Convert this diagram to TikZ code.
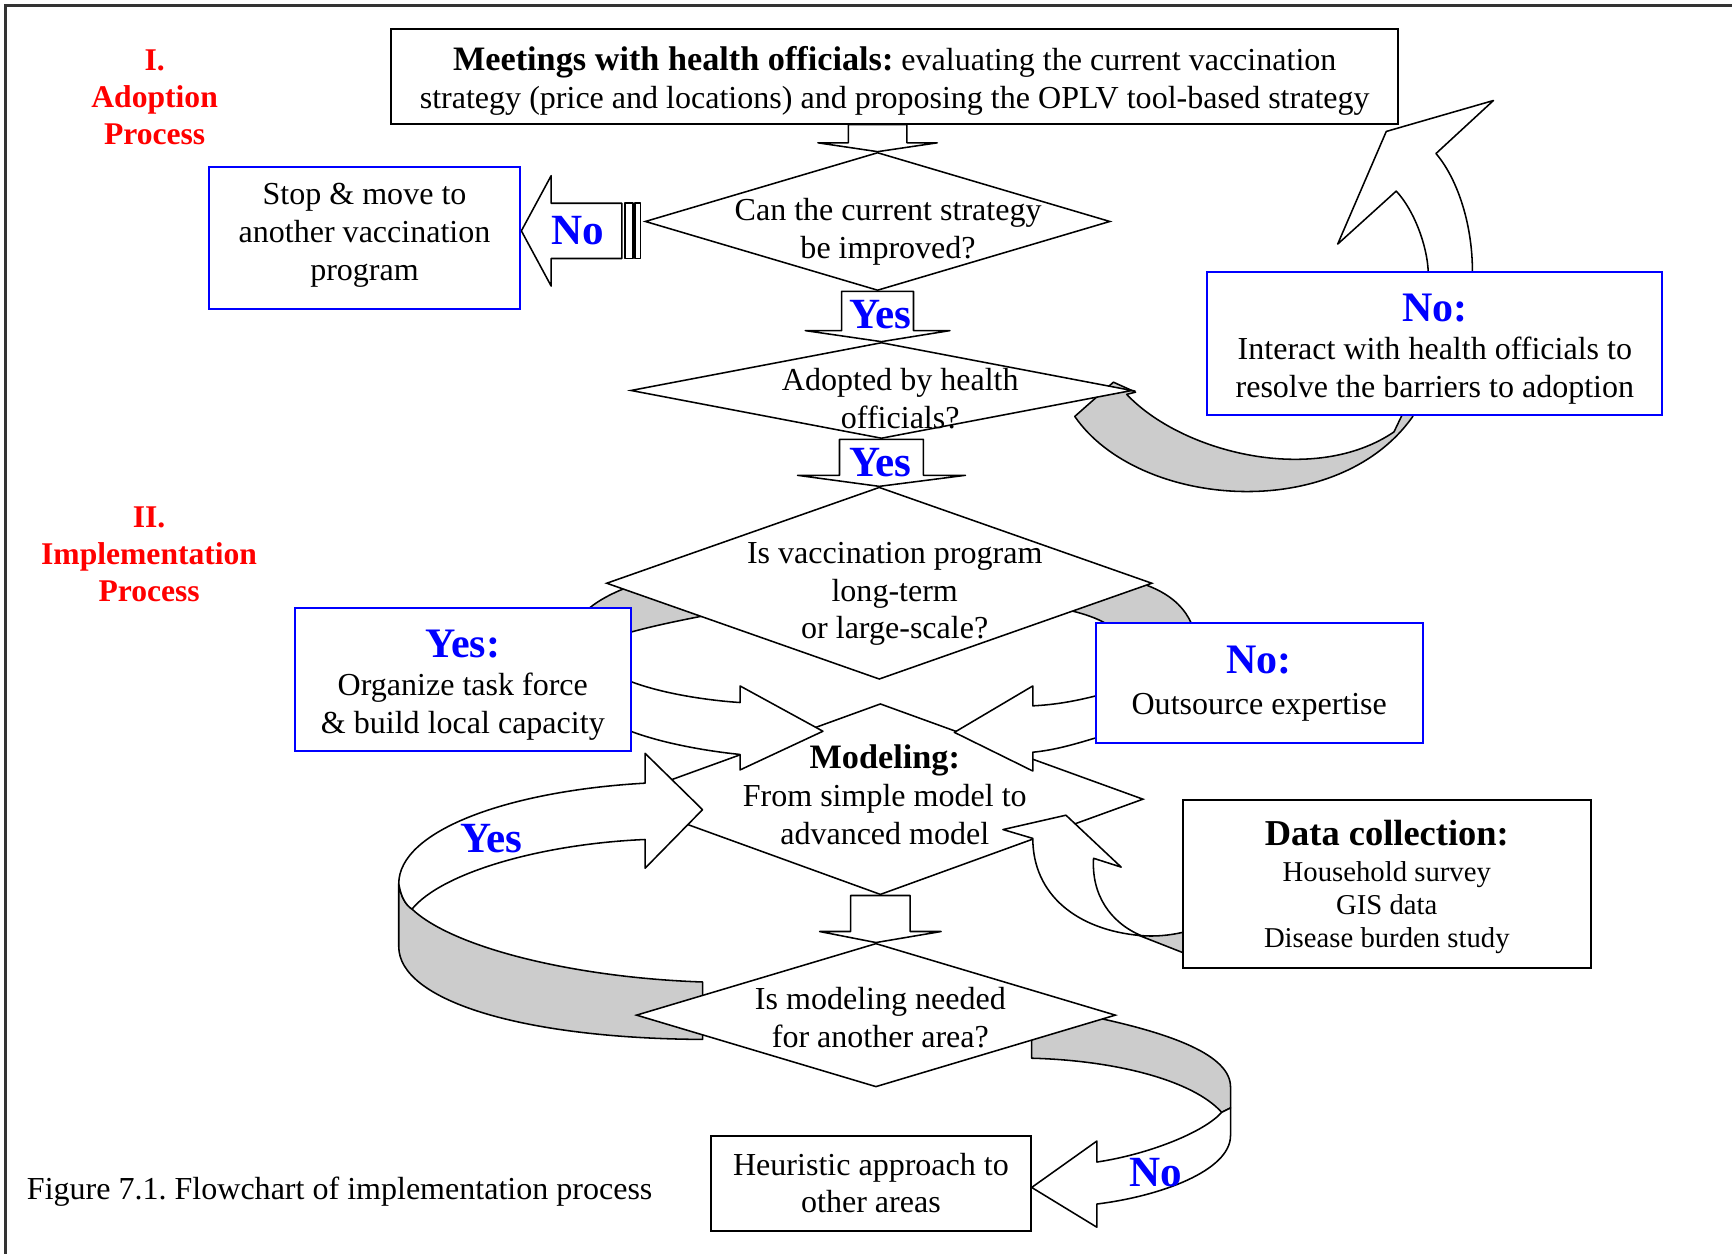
\documentclass[tikz,border=0pt]{standalone}
\usepackage{fontspec}
\setmainfont{Liberation Serif}
\usetikzlibrary{shapes.geometric,calc}
\definecolor{bandgray}{RGB}{204,204,204}
\definecolor{pblue}{RGB}{0,0,255}
\definecolor{pred}{RGB}{255,0,0}
\newcommand\bigbl{\fontsize{19}{22}\selectfont\bfseries\color{pblue}}
\newcommand\vblock[5]{\draw[blk] let \p1=(#1), \p2=(#2) in (\x1-#3,\y1) -- (\x1+#3,\y1) -- (\x1+#3,\y2+#5) -- (\x1+#4,\y2+#5) -- (\x2,\y2) -- (\x1-#4,\y2+#5) -- (\x1-#3,\y2+#5) -- cycle;}
\begin{document}
\frenchspacing
\begin{tikzpicture}[x=0.5pt,y=-0.5pt,
 base/.style={font=\fontsize{14.5}{17}\selectfont, align=center, inner sep=0pt},
 bluebox/.style={base, draw=pblue, line width=0.9pt, fill=white, rectangle},
 blackbox/.style={base, draw=black, line width=0.9pt, fill=white, rectangle},
 dia/.style={draw=black, line width=0.7pt, fill=white, diamond, inner sep=0pt},
 blk/.style={draw=black, line width=0.7pt, fill=white, line join=round},
 grayband/.style={draw=black, line width=0.7pt, fill=bandgray, line join=round},
 bigl/.style={font=\fontsize{19.5}{22}\selectfont\bfseries, text=pblue, inner sep=0pt},
 redl/.style={font=\fontsize{14.3}{16.75}\selectfont\bfseries, text=pred, align=center, inner sep=0pt}]
\useasboundingbox (0,0) rectangle (1568,1135);
% frame
\draw[line width=1.1pt, black!80] (5,1135) -- (5,5) -- (1568,5);
% gray bands behind decision 3
\draw[grayband] (518,568) .. controls (530,548) and (555,533) .. (600,522) -- (660,553) .. controls (625,560) and (590,566) .. (555,577) -- cycle;
\draw[grayband] (1010,522) .. controls (1050,530) and (1075,545) .. (1082,575) -- (1015,575) .. controls (1005,565) and (990,556) .. (955,550) -- cycle;
% adoption "No" band
\draw[grayband] (973,377) -- (1008,346) -- (1028,355) -- (1020,357) .. controls (1070,410) and (1190,440) .. (1262,391) -- (1272,370) -- (1281,370) -- (1279,377) .. controls (1210,475) and (1030,460) .. (973,377) -- cycle;
% up arrow from No box
\draw[blk] (1293,252) -- (1293,246) .. controls (1292,222) and (1280,190) .. (1264,173) -- (1211,221) -- (1255,119) -- (1352,91) -- (1300,139) .. controls (1318,160) and (1333,200) .. (1333,246) -- (1333,252) -- cycle;
% decisions
\node[dia, minimum width=210.5pt, minimum height=62.5pt] (D1) at (794.5,200.5) {};
\node[dia, minimum width=227pt, minimum height=43.5pt] (D2) at (798,353.5) {};
\node[dia, minimum width=247pt, minimum height=87pt] (D3) at (796,528) {};
% loop gray parts
\draw[grayband] (361,800) .. controls (363,812) and (367,819) .. (373,823) .. controls (410,858) and (520,885) .. (636,889) -- (636,941) .. controls (470,940) and (361,905) .. (361,857) -- cycle;
\draw[grayband] (934,958) -- (934,925) -- (996,922) .. controls (1060,936) and (1114,955) .. (1114,984) -- (1114,1003) -- (1106,1007) .. controls (1080,978) and (1010,960) .. (934,958) -- cycle;
\node[dia, minimum width=238pt, minimum height=86.5pt] (D4) at (797,723.5) {};
\node[dia, minimum width=217pt, minimum height=65pt] (D5) at (793,919) {};
% top box
\node[blackbox, minimum width=456pt, minimum height=43pt] (top) at (810,69) {};
\node[base] (toptext) at (810,73) {{\fontsize{15.5}{17}\selectfont\bfseries Meetings with health officials:} evaluating the current vaccination\\strategy (price and locations) and proposing the OPLV tool-based strategy};
% straight block arrows
\vblock{D1.north |- top.south}{D1.north}{13.25pt}{27pt}{4pt}
\vblock{D1.south}{D2.north}{16.25pt}{32.75pt}{5pt}
\vblock{D2.south}{D3.north}{19pt}{38pt}{5pt}
\vblock{D4.south}{D5.north}{13.5pt}{27.5pt}{5pt}
% left No arrow
\draw[blk] (563,184) -- (499,184) -- (499,159) -- (472,209) -- (499,259) -- (499,234) -- (563,234) -- cycle;
\draw[blk] (566,184) rectangle (573,234);
\draw[blk] (575,184) rectangle (580,234);
% Yes box -> modeling
\draw[blk] (560,614) -- (571,617) .. controls (600,628) and (640,634) .. (670,636) -- (670,621) -- (745,662) -- (670,697) -- (670,683) .. controls (640,680) and (600,673) .. (571,662) -- (560,660) -- cycle;
% Outsource -> modeling
\draw[blk] (1000,629) -- (992,630) .. controls (972,635) and (955,638) .. (935,639) -- (935,621) -- (864,663) -- (935,698) -- (935,681) .. controls (955,679) and (972,674) .. (992,668) -- (1000,667) -- cycle;
% Yes loop (white part)
\draw[blk] (361,800) .. controls (361,752) and (460,716) .. (584,709) -- (584,682) -- (636,733) -- (584,786) -- (584,760) .. controls (490,764) and (400,790) .. (373,823) .. controls (367,819) and (363,812) .. (361,800) -- cycle;
% No loop (white part)
\draw[blk] (1106,1007) .. controls (1090,1025) and (1040,1045) .. (993,1052) -- (993,1033) -- (934,1075) -- (993,1111) -- (993,1090) .. controls (1050,1083) and (1114,1060) .. (1114,1028) -- (1114,1003) -- cycle;
% data arrow
\draw[grayband] (1029,846) -- (1080,866) -- (1080,843) -- (1071,844) .. controls (1058,847) and (1045,848) .. (1033,847) -- cycle;
\draw[blk] (1033,847) .. controls (975,842) and (935,810) .. (935,759) -- (908,751) -- (965,738) -- (1015,785) -- (990,777) .. controls (988,810) and (1005,835) .. (1033,847) -- cycle;
% boxes
\node[bluebox, minimum width=141pt, minimum height=64.5pt] (stop) at (330,215.5) {};
\node[base] at (330,213) {Stop \& move to\\another vaccination\\program};
\node[bluebox, minimum width=206pt, minimum height=65pt] (adno) at (1299,311) {};
\node[base] at (1299,316) {{\bigbl No:}\\[0.5pt]Interact with health officials to\\resolve the barriers to adoption};
\node[bluebox, minimum width=152pt, minimum height=65pt] (yesbox) at (419,615) {};
\node[base] at (419,620) {{\bigbl Yes:}\\[0.5pt]Organize task force\\\& build local capacity};
\node[bluebox, minimum width=148pt, minimum height=54.5pt] (outbox) at (1140,618.5) {};
\node[base] at (1140,619) {{\bigbl No:}\\[1.5pt]Outsource expertise};
\node[blackbox, minimum width=184.5pt, minimum height=76pt] (data) at (1255.5,800) {};
\node[base, font=\fontsize{13}{15}\selectfont] at (1255.5,803) {{\fontsize{16.5}{18}\selectfont\bfseries Data collection:}\\[1.5pt]Household survey\\GIS data\\Disease burden study};
\node[blackbox, minimum width=144.5pt, minimum height=43pt] (heur) at (788.5,1071) {Heuristic approach to\\other areas};
% texts
\node[redl] (lab1) at (140,88.5) {I.\\Adoption\\Process};
\node[redl] (lab2) at (135,501.5) {II.\\Implementation\\Process};
\node[base] (t1) at (804,210) {Can the current strategy\\be improved?};
\node[base] (t2) at (815,361) {Adopted by health\\officials?};
\node[base] (t3) at (810,538) {Is vaccination program\\long-term\\or large-scale?};
\node[base] (t4) at (801,719.5) {{\fontsize{15.5}{17}\selectfont\bfseries Modeling:}\\From simple model to\\advanced model};
\node[base] (t5) at (797,921) {Is modeling needed\\for another area?};
\node[bigl] (noL) at (523,209) {No};
\node[bigl] (yes1) at (797,285) {Yes};
\node[bigl] (yes2) at (797,419) {Yes};
\node[bigl] (yes3) at (445,759) {Yes};
\node[bigl] (no3) at (1046,1062) {No};
\node[base, anchor=west] (cap) at (24,1079) {Figure 7.1. Flowchart of implementation process};
\end{tikzpicture}
\end{document}
